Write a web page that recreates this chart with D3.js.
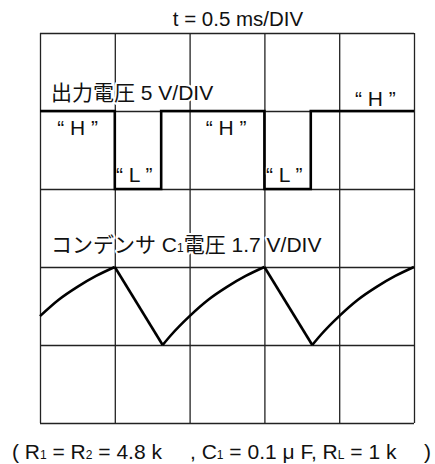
<!DOCTYPE html>
<html>
<head>
<meta charset="utf-8">
<script src="https://cdn.jsdelivr.net/npm/d3@7"></script>
<style>
  html, body { margin: 0; padding: 0; background: #fff; }
  svg { display: block; }
  text { font-family: "Liberation Sans", Arial, "Noto Sans CJK JP", sans-serif; fill: #111; }
  .halo { paint-order: stroke; stroke: #fff; stroke-width: 4px; stroke-linejoin: round; }
</style>
</head>
<body>
<svg id="scope" width="435" height="464"></svg>
<script>
// Screen divisions: 5 horizontal (time) x 5 vertical (voltage)
const timeDivs = [0, 1, 2, 3, 4, 5];
const voltDivs = [0, 1, 2, 3, 4, 5];

// Output voltage (5 V/DIV): step trace, time in DIV, level in DIV
const outT = [0, 1.0, 1.62, 3.0, 3.62, 5.0];
const outV = [4, 3, 4, 3, 4, 4];

// Capacitor C1 voltage (1.7 V/DIV): charging curves and discharge ramps
const charge0T = [0, 0.25, 0.5, 0.75, 1.0];
const charge0V = [1.37, 1.58, 1.745, 1.885, 2.0];
const charge1T = [1.64, 1.75, 2.0, 2.25, 2.5, 2.75, 3.0];
const charge1V = [1.0, 1.125, 1.37, 1.58, 1.745, 1.885, 2.0];
const charge2T = [3.64, 3.75, 4.0, 4.25, 4.5, 4.75, 5.0];
const charge2V = [1.0, 1.125, 1.37, 1.58, 1.745, 1.885, 2.0];
const dischargeT = [[1.0, 1.64], [3.0, 3.64]];
const dischargeV = [[2.0, 1.0], [2.0, 1.0]];

const svg = d3.select("#scope");
const x = d3.scaleLinear().domain([0, 5]).range([40, 414]);
const y = d3.scaleLinear().domain([0, 5]).range([423, 33]);

// Graticule
const grid = svg.append("g").attr("class", "grid");
grid.append("g")
  .attr("transform", `translate(0,${y(0)})`)
  .call(d3.axisBottom(x).tickValues(timeDivs).tickSize(-(y(0) - y(5))).tickFormat(""))
  .call(g => g.select(".domain").remove());
grid.append("g")
  .attr("transform", `translate(${x(0)},0)`)
  .call(d3.axisLeft(y).tickValues(voltDivs).tickSize(-(x(5) - x(0))).tickFormat(""))
  .call(g => g.select(".domain").remove());
grid.selectAll(".tick line").attr("stroke", "#222").attr("stroke-width", 1.3);
grid.selectAll(".tick text").remove();

const zip = (ts, vs) => ts.map((t, i) => [t, vs[i]]);

// Labels (drawn before traces so the traces sit on top)
const labels = svg.append("g");
labels.append("text").attr("x", 238).attr("y", 26).attr("text-anchor", "middle")
  .style("font-size", "20.5px").text("t = 0.5 ms/DIV");

labels.append("text").attr("class", "halo").attr("x", 51).attr("y", 100)
  .style("font-size", "21px").text("出力電圧 5 V/DIV");

const capLabel = labels.append("text").attr("class", "halo").attr("x", 51).attr("y", 252)
  .style("font-size", "21px");
capLabel.append("tspan").text("コンデンサ C");
capLabel.append("tspan").style("font-size", "12px").text("1");
capLabel.append("tspan").text("電圧 1.7 V/DIV");

const hLabels = [[4.21, 4.06], [0.23, 3.69], [2.215, 3.69]];
hLabels.forEach(([t, v]) => {
  labels.append("text").attr("class", "halo").attr("x", x(t)).attr("y", y(v))
    .style("font-size", "21px").text("“ H ”");
});
const lLabels = [[1.016, 3.094], [3.02, 3.094]];
lLabels.forEach(([t, v]) => {
  labels.append("text").attr("class", "halo").attr("x", x(t)).attr("y", y(v))
    .style("font-size", "21px").text("“ L ”");
});

// Component values
const foot = svg.append("g").style("font-size", "21px");
const f1 = foot.append("text").attr("x", 12).attr("y", 459);
f1.append("tspan").text("( R");
f1.append("tspan").style("font-size", "12px").text("1");
f1.append("tspan").text(" = R");
f1.append("tspan").style("font-size", "12px").text("2");
f1.append("tspan").text(" = 4.8 k");
const f2 = foot.append("text").attr("x", 190).attr("y", 459);
f2.append("tspan").text(", C");
f2.append("tspan").style("font-size", "12px").text("1");
f2.append("tspan").text(" = 0.1 μ F, R");
f2.append("tspan").style("font-size", "12px").text("L");
f2.append("tspan").text(" = 1 k");
foot.append("text").attr("x", 424).attr("y", 459).text(")");

// Traces
const traces = svg.append("g").attr("fill", "none").attr("stroke", "#000")
  .attr("stroke-width", 2.6).attr("stroke-linejoin", "miter");

const stepLine = d3.line().x(d => x(d[0])).y(d => y(d[1])).curve(d3.curveStepAfter);
traces.append("path").attr("d", stepLine(zip(outT, outV)));

const smooth = d3.line().x(d => x(d[0])).y(d => y(d[1])).curve(d3.curveMonotoneX);
const straight = d3.line().x(d => x(d[0])).y(d => y(d[1]));
[[charge0T, charge0V], [charge1T, charge1V], [charge2T, charge2V]].forEach(([ts, vs]) => {
  traces.append("path").attr("d", smooth(zip(ts, vs)));
});
dischargeT.forEach((ts, i) => {
  traces.append("path").attr("d", straight(zip(ts, dischargeV[i])));
});
</script>
</body>
</html>
